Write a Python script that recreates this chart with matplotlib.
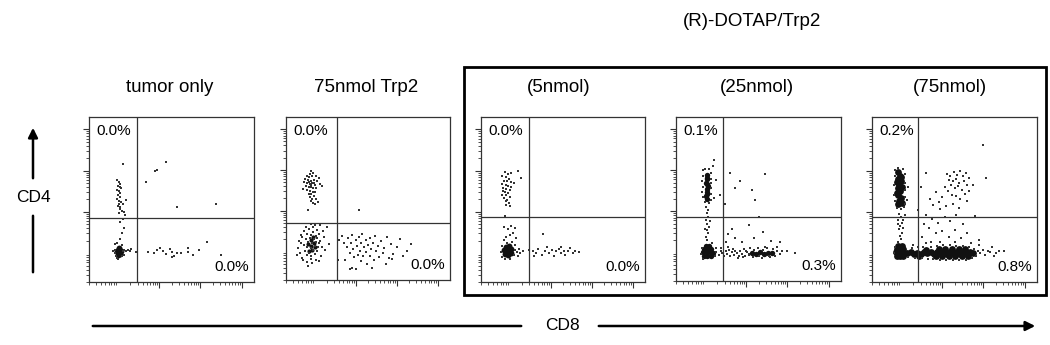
import numpy as np
import matplotlib
matplotlib.use("Agg")
import matplotlib.pyplot as plt
from matplotlib.patches import Rectangle, FancyArrowPatch

plt.rcParams['font.family'] = ['Liberation Sans', 'DejaVu Sans']

# panel titles and quadrant percentages (upper-left = CD4+, lower-right = CD8+)
titles = ["tumor only", "75nmol Trp2", "(5nmol)", "(25nmol)", "(75nmol)"]
pct_cd4 = ["0.0%", "0.0%", "0.0%", "0.1%", "0.2%"]
pct_cd8 = ["0.0%", "0.0%", "0.0%", "0.3%", "0.8%"]

# quadrant gates (axis decades, 0-4)
gate_cd8 = [1.16, 1.24, 1.16, 1.13, 1.12]
gate_cd4 = [1.56, 1.40, 1.57, 1.55, 1.57]

# events: (CD8, CD4) in axis decades
# "core" = dense, saturated regions; the rest are single events
tumor_core = [(0.70, 0.70), (0.74, 0.72), (0.77, 0.76), (0.72, 0.79), (0.69, 0.76),
              (0.75, 0.67), (0.73, 0.83), (0.71, 0.65)]
tumor_events = [
    (0.62, 0.78), (0.64, 0.70), (0.66, 0.62), (0.82, 0.74), (0.86, 0.78), (0.90, 0.76),
    (0.95, 0.77), (0.68, 0.58), (0.80, 0.62), (0.79, 0.90), (0.68, 0.95), (0.62, 0.92),
    (0.74, 1.05), (0.80, 1.18), (0.84, 1.32), (0.76, 1.45), (0.82, 1.52), (0.70, 0.55),
    (0.85, 0.66), (0.58, 0.75),
    (0.68, 2.48), (0.72, 2.42), (0.76, 2.38), (0.70, 2.33), (0.74, 2.30), (0.78, 2.27),
    (0.68, 2.24), (0.73, 2.20), (0.76, 2.15), (0.71, 2.10), (0.75, 2.05), (0.69, 2.02),
    (0.73, 1.97), (0.77, 1.95), (0.72, 1.90), (0.70, 1.85), (0.76, 1.82), (0.74, 1.76),
    (0.80, 1.72), (0.85, 1.70), (0.82, 1.90), (0.90, 2.00), (0.88, 1.62), (0.72, 1.68),
    (1.43, 0.72), (1.64, 0.78), (1.73, 0.82), (1.86, 0.68), (1.96, 0.80), (2.00, 0.72),
    (2.06, 0.64), (2.14, 0.70), (2.24, 0.70), (2.39, 0.82), (2.41, 0.72), (2.53, 0.66),
    (2.67, 0.78), (2.87, 0.98), (3.19, 0.66), (1.15, 0.72), (1.03, 0.80), (0.99, 0.74),
    (1.80, 0.74), (2.02, 0.60), (1.58, 0.70),
    (0.83, 2.87), (1.39, 2.43), (1.60, 2.69), (1.64, 2.72), (1.86, 2.90), (2.14, 1.81),
    (3.08, 1.89)]

trp2_core = [(0.56, 0.70), (0.64, 0.74), (0.60, 0.84), (0.68, 0.90), (0.62, 0.98),
             (0.70, 0.80), (0.54, 0.88), (0.66, 1.06)]
trp2_events = [
    (0.62, 2.68), (0.58, 2.60), (0.66, 2.62), (0.50, 2.55), (0.56, 2.52), (0.64, 2.54),
    (0.72, 2.56), (0.80, 2.50), (0.46, 2.47), (0.54, 2.46), (0.60, 2.44), (0.68, 2.45),
    (0.75, 2.42), (0.44, 2.40), (0.52, 2.38), (0.58, 2.36), (0.64, 2.37), (0.70, 2.34),
    (0.84, 2.36), (0.48, 2.31), (0.56, 2.29), (0.62, 2.28), (0.67, 2.26), (0.74, 2.25),
    (0.42, 2.24), (0.52, 2.21), (0.59, 2.19), (0.65, 2.17), (0.71, 2.15), (0.55, 2.12),
    (0.62, 2.10), (0.68, 2.07), (0.58, 2.04), (0.64, 2.00), (0.72, 1.98), (0.60, 1.94),
    (0.66, 1.90), (0.78, 1.92), (0.70, 1.86), (0.88, 2.30), (0.54, 1.72), (0.61, 2.33),
    (0.57, 2.41), (0.69, 2.39),
    (0.50, 0.62), (0.60, 0.60), (0.70, 0.64), (0.46, 0.72), (0.56, 0.66), (0.66, 0.73),
    (0.76, 0.70), (0.50, 0.82), (0.60, 0.78), (0.70, 0.84), (0.78, 0.80), (0.54, 0.94),
    (0.64, 0.90), (0.74, 0.94), (0.58, 1.02), (0.68, 1.00), (0.62, 1.10), (0.72, 1.08),
    (0.66, 1.18), (0.48, 1.00), (0.52, 1.14), (0.76, 1.02), (0.44, 0.86), (0.80, 0.90),
    (0.30, 0.78), (0.34, 0.66), (0.36, 0.90), (0.38, 0.55), (0.40, 1.05), (0.42, 0.48),
    (0.44, 1.20), (0.48, 1.30), (0.52, 0.45), (0.56, 1.25), (0.60, 1.38), (0.64, 0.42),
    (0.66, 1.30), (0.72, 0.50), (0.76, 1.22), (0.80, 1.12), (0.84, 0.96), (0.86, 0.60),
    (0.88, 0.82), (0.92, 1.05), (0.95, 0.74), (1.00, 1.30), (0.82, 1.35), (0.70, 1.35),
    (0.36, 1.10), (0.32, 0.95), (0.54, 0.35), (0.62, 0.52), (0.80, 0.46), (0.90, 1.20),
    (1.04, 0.88), (0.28, 0.62),
    (1.30, 0.98), (1.36, 1.08), (1.42, 0.92), (1.48, 0.80), (1.50, 1.04), (1.55, 0.66),
    (1.58, 0.90), (1.62, 1.10), (1.64, 0.76), (1.66, 0.56), (1.70, 0.98), (1.72, 0.84),
    (1.75, 0.62), (1.78, 1.06), (1.80, 0.72), (1.82, 0.46), (1.84, 0.90), (1.86, 1.12),
    (1.88, 0.58), (1.90, 0.80), (1.94, 0.98), (1.96, 0.68), (1.98, 0.40), (2.00, 0.86),
    (2.04, 1.02), (2.06, 0.60), (2.08, 0.76), (2.12, 0.92), (2.14, 0.50), (2.18, 1.08),
    (2.20, 0.70), (2.24, 0.84), (2.28, 0.56), (2.32, 0.96), (2.36, 0.66), (2.40, 0.78),
    (2.46, 1.06), (2.50, 0.54), (2.56, 0.88), (2.62, 0.64), (2.70, 0.82), (2.78, 1.00),
    (2.86, 0.60), (2.96, 0.72), (3.04, 0.88), (1.56, 0.26), (1.62, 0.30), (1.70, 0.28),
    (2.58, 0.52), (1.45, 0.48), (1.28, 0.50), (2.10, 0.30), (2.44, 0.40), (1.79, 1.73)]

dotap5_core = [(0.58, 0.68), (0.66, 0.66), (0.74, 0.70), (0.56, 0.78), (0.64, 0.76),
               (0.72, 0.80), (0.60, 0.86), (0.68, 0.88)]
dotap5_events = [
    (0.58, 2.66), (0.66, 2.62), (0.74, 2.64), (0.90, 2.68), (0.98, 2.52), (0.52, 2.56),
    (0.60, 2.54), (0.68, 2.50), (0.56, 2.45), (0.64, 2.44), (0.72, 2.42), (0.50, 2.38),
    (0.60, 2.36), (0.66, 2.33), (0.74, 2.30), (0.54, 2.28), (0.62, 2.25), (0.70, 2.22),
    (0.58, 2.18), (0.66, 2.15), (0.50, 2.12), (0.62, 2.10), (0.70, 2.06), (0.56, 2.04),
    (0.64, 2.00), (0.60, 1.96), (0.68, 1.92), (0.62, 1.86), (0.70, 1.84), (0.58, 1.60),
    (0.80, 2.40), (0.54, 2.20),
    (0.48, 0.72), (0.50, 0.60), (0.52, 0.88), (0.80, 0.66), (0.84, 0.78), (0.88, 0.72),
    (0.92, 0.80), (0.96, 0.70), (1.02, 0.76), (0.82, 0.90), (0.76, 0.98), (0.56, 1.02),
    (0.62, 1.10), (0.70, 1.14), (0.78, 1.20), (0.55, 1.34), (0.84, 1.30), (0.66, 1.28),
    (0.74, 1.36), (0.58, 0.56), (0.70, 0.56), (0.86, 1.06), (0.90, 0.62), (0.64, 0.94),
    (1.18, 0.78), (1.26, 0.74), (1.34, 0.70), (1.40, 0.80), (1.48, 0.66), (1.55, 0.76),
    (1.60, 0.84), (1.66, 0.70), (1.72, 0.78), (1.78, 0.64), (1.84, 0.74), (1.90, 0.80),
    (1.96, 0.70), (2.02, 0.76), (2.06, 0.66), (2.12, 0.74), (2.18, 0.82), (2.24, 0.70),
    (2.30, 0.76), (2.38, 0.72), (1.52, 1.17), (1.94, 0.86), (1.30, 0.64)]

dotap25_core = [
    (0.74, 2.58), (0.76, 2.48), (0.73, 2.40), (0.77, 2.32), (0.74, 2.24), (0.76, 2.16),
    (0.73, 2.08), (0.76, 2.00), (0.75, 2.52), (0.75, 2.36), (0.74, 2.12),
    (0.68, 0.62), (0.76, 0.60), (0.84, 0.62), (0.66, 0.70), (0.74, 0.70), (0.82, 0.70),
    (0.90, 0.68), (0.68, 0.78), (0.76, 0.78), (0.84, 0.78), (0.72, 0.86), (0.80, 0.86),
    (1.84, 0.68), (1.94, 0.66), (2.04, 0.70), (2.14, 0.67), (2.24, 0.69), (2.32, 0.68)]
dotap25_events = [
    (0.66, 2.70), (0.70, 2.74), (0.80, 2.72), (0.84, 2.64), (0.66, 2.56), (0.86, 2.50),
    (0.64, 2.44), (0.84, 2.38), (0.66, 2.30), (0.86, 2.26), (0.64, 2.18), (0.84, 2.12),
    (0.66, 2.04), (0.86, 1.98), (0.70, 1.92), (0.80, 1.90), (0.92, 2.02), (0.96, 2.46),
    (0.90, 2.80), (0.93, 2.94), (0.72, 1.80), (0.78, 1.74), (1.06, 2.10),
    (0.74, 1.66), (0.78, 1.56), (0.72, 1.48), (0.76, 1.40), (0.80, 1.32), (0.74, 1.24),
    (0.78, 1.16), (0.72, 1.08), (0.76, 1.00), (0.82, 1.46), (0.70, 1.28),
    (0.60, 0.66), (0.62, 0.80), (0.94, 0.60), (0.96, 0.80), (0.88, 0.92), (0.66, 0.54),
    (0.98, 0.70), (1.04, 0.64), (1.08, 0.74), (1.12, 0.68), (1.16, 0.62), (1.20, 0.72),
    (1.24, 0.66), (1.28, 0.76), (1.32, 0.60), (1.36, 0.70), (1.40, 0.64), (1.44, 0.74),
    (1.48, 0.68), (1.52, 0.62), (1.56, 0.72), (1.60, 0.66), (1.64, 0.78), (1.68, 0.60),
    (1.72, 0.70), (1.76, 0.64), (1.80, 0.80), (1.86, 0.58), (1.98, 0.80), (2.08, 0.56),
    (2.20, 0.80), (2.28, 0.58), (2.36, 0.78), (2.40, 0.62), (2.46, 0.72), (2.52, 0.66),
    (2.58, 0.74), (2.70, 0.72), (2.88, 0.68), (1.26, 0.82), (1.50, 0.56), (1.10, 0.80),
    (1.38, 0.78), (1.62, 0.58), (2.16, 0.84), (2.44, 0.84), (1.90, 0.76), (2.10, 0.76),
    (2.00, 0.60), (1.70, 0.72), (1.78, 0.66), (2.26, 0.62),
    (1.35, 1.28), (1.26, 1.14), (1.44, 1.04), (1.60, 0.96), (1.90, 1.06), (2.10, 1.20),
    (2.30, 0.98), (1.20, 0.96), (2.52, 0.94), (1.76, 1.36), (2.00, 1.55),
    (1.31, 2.64), (1.56, 2.44), (1.43, 2.27), (1.84, 2.21), (1.92, 1.97), (2.16, 2.60),
    (1.19, 1.89), (1.07, 2.09)]

dotap75_core = [
    (0.64, 2.66), (0.68, 2.58), (0.64, 2.50), (0.70, 2.44), (0.66, 2.36), (0.62, 2.28),
    (0.68, 2.20), (0.64, 2.12), (0.70, 2.04), (0.66, 1.96), (0.64, 1.88), (0.70, 2.54),
    (0.60, 2.42), (0.72, 2.30), (0.60, 2.16), (0.72, 1.92),
    (0.60, 0.64), (0.68, 0.62), (0.76, 0.64), (0.58, 0.72), (0.66, 0.72), (0.74, 0.72),
    (0.60, 0.80), (0.68, 0.82), (0.76, 0.80), (0.64, 0.88), (0.72, 0.88),
    (0.86, 0.70), (0.94, 0.72), (1.02, 0.69), (1.10, 0.71), (1.18, 0.68), (1.26, 0.72),
    (1.34, 0.70), (1.42, 0.73), (1.50, 0.68), (1.58, 0.72), (1.66, 0.70), (1.74, 0.73),
    (1.82, 0.69), (1.90, 0.72), (1.98, 0.70), (2.06, 0.73), (2.14, 0.69), (2.22, 0.72),
    (2.30, 0.70), (2.38, 0.72), (2.44, 0.70), (1.54, 0.62), (1.70, 0.63), (1.86, 0.62),
    (2.02, 0.63), (2.18, 0.62), (2.32, 0.63), (1.62, 0.80), (1.78, 0.81), (1.94, 0.80),
    (2.10, 0.81), (2.26, 0.80), (1.30, 0.78), (1.14, 0.63)]
dotap75_events = [
    (0.56, 2.72), (0.62, 2.76), (0.76, 2.74), (0.80, 2.62), (0.56, 2.56), (0.80, 2.40),
    (0.54, 2.34), (0.80, 2.22), (0.54, 2.10), (0.80, 2.06), (0.56, 1.96), (0.80, 1.90),
    (0.60, 1.80), (0.70, 1.76), (0.78, 1.82), (0.88, 2.30), (0.86, 2.00),
    (0.66, 1.66), (0.70, 1.58), (0.64, 1.50), (0.72, 1.44), (0.68, 1.36), (0.66, 1.28),
    (0.72, 1.20), (0.68, 1.12), (0.70, 1.04), (0.64, 0.98), (0.76, 1.50), (0.80, 1.62),
    (0.74, 1.30), (0.62, 1.40),
    (0.88, 0.60), (0.96, 0.82), (1.04, 0.58), (1.12, 0.84), (1.20, 0.58), (1.24, 0.86),
    (1.36, 0.56), (1.44, 0.86), (1.48, 0.56), (1.58, 0.88), (1.64, 0.54), (1.72, 0.90),
    (1.80, 0.54), (1.88, 0.90), (1.96, 0.54), (2.04, 0.88), (2.12, 0.54), (2.20, 0.88),
    (2.28, 0.54), (2.36, 0.86), (2.42, 0.58), (2.48, 0.80), (2.52, 0.64), (2.56, 0.74),
    (2.62, 0.70), (2.68, 0.78), (2.74, 0.66), (2.80, 0.76), (2.86, 0.72), (2.92, 0.84),
    (3.00, 0.70), (3.08, 0.76), (3.20, 0.74), (2.96, 0.62), (1.00, 0.90), (1.30, 0.94),
    (1.66, 0.96), (2.00, 0.98), (2.40, 0.94), (2.60, 0.90), (0.54, 0.70), (0.56, 0.84),
    (1.82, 2.62), (1.90, 2.58), (1.98, 2.66), (2.06, 2.60), (2.14, 2.70), (2.20, 2.56),
    (2.28, 2.64), (2.36, 2.52), (1.86, 2.48), (1.96, 2.44), (2.04, 2.50), (2.12, 2.40),
    (2.22, 2.46), (2.30, 2.36), (1.92, 2.34), (2.00, 2.28), (2.08, 2.32), (2.18, 2.22),
    (2.26, 2.14), (1.84, 2.20), (1.94, 2.12), (2.04, 2.08), (2.14, 2.02), (1.76, 2.30),
    (1.70, 2.06), (1.62, 1.94), (1.54, 2.18), (1.48, 1.86), (1.40, 2.02), (1.66, 1.76),
    (1.80, 1.84), (1.96, 1.90), (2.10, 1.80), (2.30, 1.96), (2.34, 2.20), (2.44, 2.34),
    (1.31, 2.65), (2.70, 3.33), (2.76, 2.51), (1.30, 1.62), (1.46, 1.52), (1.60, 1.44),
    (1.76, 1.58), (1.90, 1.48), (2.04, 1.62), (2.20, 1.40), (1.38, 1.30), (1.54, 1.18),
    (1.70, 1.24), (1.86, 1.10), (2.00, 1.26), (2.16, 1.06), (2.30, 1.20), (1.20, 1.10),
    (1.44, 0.98), (1.26, 1.40), (1.18, 2.30), (1.12, 1.74), (2.50, 1.60), (2.60, 1.02)]

cores = [tumor_core, trp2_core, dotap5_core, dotap25_core, dotap75_core]
events = [tumor_events, trp2_events, dotap5_events, dotap25_events, dotap75_events]
core_size = [18, 9, 18, 15, 24]

# axes placement in pixels (left, top, right, bottom) on a 1050x345 canvas
W, H = 1050, 345
boxes = [(89, 117, 254, 282), (286, 117, 450, 280), (481, 117, 645, 282),
         (676, 117, 841, 281), (872, 117, 1037, 282)]
title_x = [170, 366, 559, 757, 950]

fig = plt.figure(figsize=(W / 100, H / 100), dpi=100)

# log-style tick positions (decade boundaries sit ~0.7 into each axis decade)
major = [1.7, 2.7, 3.7]
minor = [b + np.log10(k) for b in (-0.3, 0.7, 1.7, 2.7) for k in range(2, 10)]
minor = [m for m in minor if 0 < m < 4]

for i in range(5):
    l, t, r, b = boxes[i]
    ax = fig.add_axes([l / W, 1 - b / H, (r - l) / W, (b - t) / H])
    ax.set_xlim(0, 4)
    ax.set_ylim(0, 4)
    ax.set_xticks(major)
    ax.set_yticks(major)
    ax.set_xticks(minor, minor=True)
    ax.set_yticks(minor, minor=True)
    ax.tick_params(which='major', direction='out', length=4, width=0.8,
                   labelbottom=False, labelleft=False, color='#333')
    ax.tick_params(which='minor', direction='out', length=2.5, width=0.6, color='#333')
    for s in ax.spines.values():
        s.set_linewidth(0.9)
        s.set_color('#333')

    ev = np.array(events[i])
    co = np.array(cores[i])
    ax.scatter(co[:, 0], co[:, 1], s=core_size[i], marker='o', color='#111', linewidths=0)
    ax.scatter(ev[:, 0], ev[:, 1], s=1.6, marker='s', color='#333', linewidths=0)

    ax.axvline(gate_cd8[i], color='#333', lw=0.9)
    ax.axhline(gate_cd4[i], color='#333', lw=0.9)

    ax.text(0.045, 0.955, pct_cd4[i], transform=ax.transAxes, ha='left', va='top',
            fontsize=11)
    ax.text(0.97, 0.05, pct_cd8[i], transform=ax.transAxes, ha='right', va='bottom',
            fontsize=11)

    fig.text(title_x[i] / W, 1 - 88 / H, titles[i], ha='center', va='center', fontsize=13.5)

# (R)-DOTAP/Trp2 group
fig.text(752 / W, 1 - 22 / H, "(R)-DOTAP/Trp2", ha='center', va='center', fontsize=13.5)
fig.add_artist(Rectangle((464 / W, 1 - 295 / H), (1046 - 464) / W, (295 - 67) / H,
                         transform=fig.transFigure, fill=False, lw=2, color='black'))

# CD4 axis arrow
fig.text(33 / W, 1 - 197 / H, "CD4", ha='center', va='center', fontsize=12.5)
fig.add_artist(FancyArrowPatch((33 / W, 1 - 275 / H), (33 / W, 1 - 213 / H),
                               transform=fig.transFigure, arrowstyle='-', lw=1.8,
                               color='black'))
fig.add_artist(FancyArrowPatch((33 / W, 1 - 181 / H), (33 / W, 1 - 125 / H),
                               transform=fig.transFigure, arrowstyle='-|>',
                               mutation_scale=14, lw=1.8, color='black'))

# CD8 axis arrow
fig.text(562 / W, 1 - 326 / H, "CD8", ha='center', va='center', fontsize=12.5)
fig.add_artist(FancyArrowPatch((90 / W, 1 - 326 / H), (524 / W, 1 - 326 / H),
                               transform=fig.transFigure, arrowstyle='-', lw=1.8,
                               color='black'))
fig.add_artist(FancyArrowPatch((596 / W, 1 - 326 / H), (1038 / W, 1 - 326 / H),
                               transform=fig.transFigure, arrowstyle='-|>',
                               mutation_scale=14, lw=1.8, color='black'))

fig.savefig("out.png", dpi=100)
